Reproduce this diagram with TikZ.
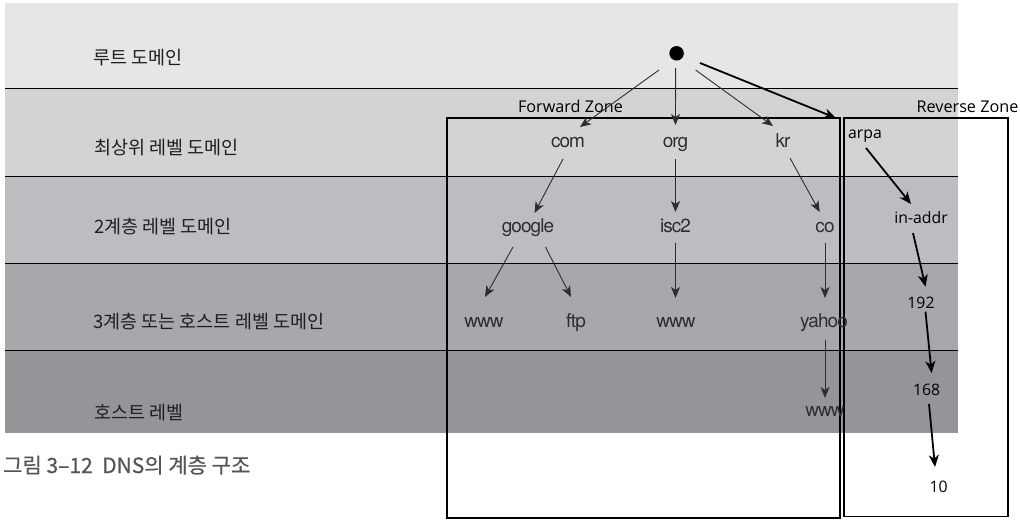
\documentclass[tikz,border=0pt]{standalone}
\usepackage{fontspec}
\usetikzlibrary{arrows.meta}
\newfontfamily\krfont{Noto Sans CJK KR}
\newfontfamily\krcapfont[FakeBold=0.5]{Noto Sans CJK KR}
\newfontfamily\helv[LetterSpace=-5]{TeX Gyre Heros}
\newfontfamily\segoe{Open Sans}
\definecolor{bandA}{HTML}{E6E6E7}
\definecolor{bandB}{HTML}{D2D3D5}
\definecolor{bandC}{HTML}{BCBDC0}
\definecolor{bandD}{HTML}{A7A8AB}
\definecolor{bandE}{HTML}{939598}
\definecolor{domtext}{HTML}{2E2E30}
\definecolor{captext}{HTML}{555555}
\begin{document}
\begin{tikzpicture}[x=1pt,y=-1pt,
  lvl/.style={anchor=base west, inner sep=0pt, font=\krfont\fontsize{18.5}{21}\selectfont, text=black!88},
  dom/.style={inner sep=0pt, text height=10pt, text depth=0pt, font=\helv\fontsize{19}{21}\selectfont, text=domtext},
  rev/.style={inner sep=0pt, text height=11pt, text depth=0pt, font=\segoe\fontsize{15.8}{18}\selectfont, text=black},
  zonelbl/.style={inner sep=0pt, text height=11pt, text depth=0pt, font=\segoe\fontsize{16.2}{18}\selectfont, text=black},
  thinarr/.style={draw=black!82, line width=0.9pt, -{Stealth[length=11pt,width=9pt,inset=3pt]}},
  thickarr/.style={draw=black, line width=1.8pt, -{Stealth[length=12pt,width=10pt,inset=3.5pt]}},
  bandline/.style={draw=black, line width=0.9pt},
  zonebox/.style={draw=black, line width=1.1pt}]
\useasboundingbox (0,0) rectangle (1020,524);
\fill[white] (0,0) rectangle (1020,524);
% bands
\fill[bandA] (5,3) rectangle (958,88);
\fill[bandB] (5,88) rectangle (958,176);
\fill[bandC] (5,176) rectangle (958,263);
\fill[bandD] (5,263) rectangle (958,350);
\fill[bandE] (5,350) rectangle (958,432.5);
\foreach \yy in {88,176,263,350} \draw[bandline] (5,\yy) -- (958,\yy);
% level labels
\node[lvl] (l1) at (93,64.8) {루트 도메인};
\node[lvl] (l2) at (94,154.8) {최상위 레벨 도메인};
\node[lvl] (l3) at (94,233.8) {2계층 레벨 도메인};
\node[lvl] (l4) at (93,328.5) {3계층 또는 호스트 레벨 도메인};
\node[lvl] (l5) at (94,419.8) {호스트 레벨};
\node[anchor=base west, inner sep=0pt, font=\krcapfont\fontsize{21}{24}\selectfont, text=captext] (cap) at (3,473) {그림 3–12\ \ DNS의 계층 구조};
% zone boxes
\draw[zonebox] (447,118) rectangle (840,518);
\draw[zonebox] (844,118) rectangle (1008,516.5);
\node[zonelbl] (fz) at (570.5,107.5) {Forward Zone};
\node[zonelbl] (rz) at (967.5,107.5) {Reverse Zone};
% root
\node[circle, fill=black, inner sep=0pt, minimum size=14.5pt] (root) at (676.6,53.3) {};
% forward tree
\node[dom] (com) at (568,142) {com};
\node[dom] (org) at (675.5,142) {org};
\node[dom] (kr) at (783,142) {kr};
\node[dom] (google) at (528,227) {google};
\node[dom] (isc2) at (675.5,227) {isc2};
\node[dom] (co) at (825,227) {co};
\node[dom] (www1) at (484,322) {www};
\node[dom] (ftp) at (576,322) {ftp};
\node[dom] (www2) at (676,322) {www};
\node[dom] (yahoo) at (824,322) {yahoo};
\node[dom] (www3) at (825,411) {www};
% reverse tree
\node[rev] (arpa) at (865,133) {arpa};
\node[rev] (inaddr) at (921,218) {in-addr};
\node[rev] (n192) at (921,303) {192};
\node[rev] (n168) at (926.6,390) {168};
\node[rev] (n10) at (938.6,487) {10};
% connectors
\draw[thinarr] ([shift={(-17.6,16.7)}]root.center) -- ([shift={(12,-15)}]com.center);
\draw[thinarr] ([shift={(-1,14.7)}]root.center) -- ([shift={(0,-17)}]org.center);
\draw[thinarr] ([shift={(19,16.7)}]root.center) -- ([shift={(-10,-16)}]kr.center);
\draw[thickarr] ([shift={(23.4,9.7)}]root.center) -- ([shift={(-29,-15)}]arpa.center);
\draw[thinarr] ([shift={(-5,17)}]com.center) -- ([shift={(6.5,-14)}]google.center);
\draw[thinarr] ([shift={(0,17)}]org.center) -- ([shift={(0,-15)}]isc2.center);
\draw[thinarr] ([shift={(7,16)}]kr.center) -- ([shift={(-5.3,-15)}]co.center);
\draw[thinarr] ([shift={(-15,20)}]google.center) -- ([shift={(1,-25)}]www1.center);
\draw[thinarr] ([shift={(17.5,20)}]google.center) -- ([shift={(-5,-25)}]ftp.center);
\draw[thinarr] ([shift={(0,16)}]isc2.center) -- ([shift={(-0.5,-24)}]www2.center);
\draw[thinarr] ([shift={(0,16)}]co.center) -- ([shift={(1,-24)}]yahoo.center);
\draw[thinarr] ([shift={(1,18)}]yahoo.center) -- ([shift={(0,-13)}]www3.center);
\draw[thickarr] ([shift={(1,15)}]arpa.center) -- ([shift={(-10,-14)}]inaddr.center);
\draw[thickarr] ([shift={(-8,15)}]inaddr.center) -- ([shift={(4.5,-16.3)}]n192.center);
\draw[thickarr] ([shift={(4.5,8.7)}]n192.center) -- ([shift={(5,-17)}]n168.center);
\draw[thickarr] ([shift={(2.4,14)}]n168.center) -- ([shift={(-3.6,-20)}]n10.center);
\end{tikzpicture}
\end{document}
